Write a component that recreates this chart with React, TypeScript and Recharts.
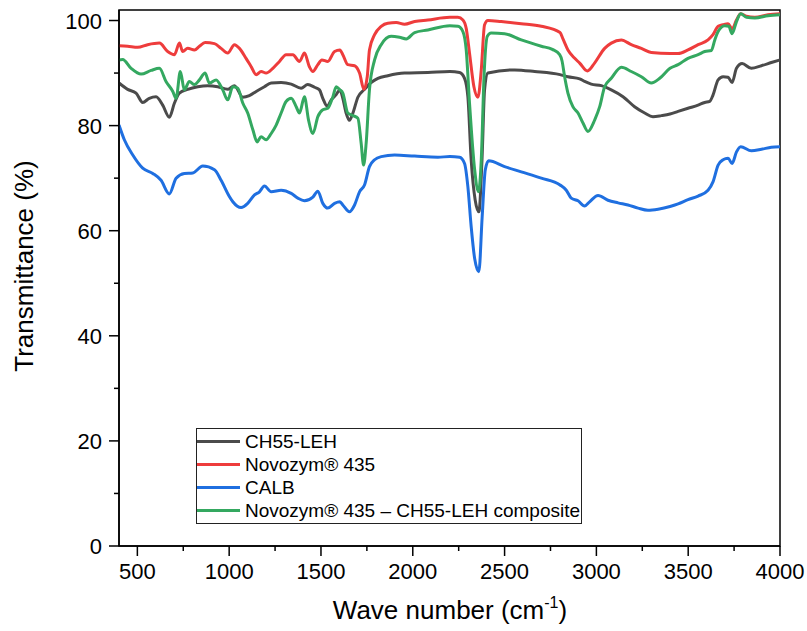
import { LineChart, Line, XAxis, YAxis, ReferenceArea, Legend } from "recharts";

// FTIR spectra, [wave number (cm-1), transmittance (%)]
const ch55: [number, number][] = [
    [400, 88.1], [447, 86.9], [493, 86.2], [529, 84.4], [565, 85.2], [602, 85.5], [638, 83.9], [674, 81.6],
    [702, 84.3], [729, 86.2], [774, 86.9], [829, 87.4], [883, 87.6], [938, 87.4], [992, 86.9], [1029, 87.6],
    [1074, 85.4], [1110, 85.7], [1147, 86.5], [1192, 87.4], [1229, 88.1], [1283, 88.2], [1338, 87.9], [1392, 87.1],
    [1428, 87.8], [1465, 87.3], [1492, 86.8], [1510, 85.2], [1534, 83.7], [1556, 84.9], [1583, 85.9], [1603, 86.8],
    [1619, 85.2], [1637, 82.4], [1655, 81.0], [1674, 82.4], [1701, 85.4], [1734, 86.8], [1773, 88.2], [1810, 89.0],
    [1864, 89.5], [1955, 90.0], [2082, 90.1], [2202, 90.3], [2255, 90.1], [2282, 89.0], [2300, 85.5], [2318, 73.5],
    [2340, 65.8], [2360, 63.6], [2377, 73.5], [2391, 86.8], [2409, 90.0], [2555, 90.6], [2664, 90.3], [2802, 89.7],
    [2845, 89.3], [2909, 88.9], [2936, 88.4], [2972, 87.9], [3027, 87.6], [3081, 86.8], [3145, 85.5], [3208, 83.6],
    [3263, 82.4], [3308, 81.7], [3354, 81.9], [3401, 82.2], [3445, 82.7], [3499, 83.3], [3554, 83.9], [3590, 84.4],
    [3617, 84.6], [3635, 85.8], [3663, 88.7], [3690, 89.3], [3717, 89.2], [3739, 88.2], [3763, 90.9], [3794, 91.8],
    [3844, 90.9], [3899, 91.4], [3953, 92.0], [4000, 92.5],
];

const novozym: [number, number][] = [
    [400, 95.2], [447, 95.1], [502, 94.9], [556, 95.4], [620, 95.7], [665, 94.1], [702, 93.5], [729, 95.7],
    [747, 94.1], [774, 94.7], [811, 94.4], [838, 95.1], [869, 95.8], [920, 95.6], [956, 94.7], [992, 93.8],
    [1029, 95.4], [1056, 94.7], [1092, 92.8], [1120, 91.2], [1147, 89.7], [1174, 90.3], [1201, 90.0], [1238, 90.9],
    [1274, 92.2], [1310, 93.5], [1347, 93.5], [1383, 92.2], [1410, 93.8], [1437, 91.2], [1456, 90.3], [1483, 91.6],
    [1505, 92.5], [1537, 92.2], [1574, 94.1], [1603, 94.4], [1619, 93.5], [1646, 91.6], [1683, 91.4], [1710, 90.0],
    [1734, 86.9], [1752, 89.3], [1764, 94.4], [1792, 97.3], [1828, 98.9], [1864, 99.5], [1910, 99.6], [1955, 99.3],
    [2010, 99.8], [2082, 100.1], [2202, 100.6], [2246, 100.6], [2273, 100.1], [2291, 98.5], [2309, 93.8], [2333, 87.4],
    [2355, 85.4], [2373, 90.6], [2391, 99.2], [2409, 100.0], [2482, 99.8], [2591, 99.4], [2700, 98.9], [2802, 97.7],
    [2818, 96.5], [2845, 94.4], [2882, 92.8], [2909, 91.9], [2951, 90.4], [2990, 91.9], [3045, 94.7], [3081, 95.7],
    [3136, 96.3], [3190, 95.4], [3245, 94.7], [3299, 93.9], [3401, 93.7], [3445, 93.7], [3499, 94.4], [3554, 95.4],
    [3608, 96.3], [3635, 97.3], [3663, 98.9], [3690, 99.2], [3717, 99.4], [3739, 98.4], [3763, 100.1], [3786, 101.3],
    [3817, 100.8], [3863, 100.6], [3935, 101.1], [4000, 101.3],
];

const calb: [number, number][] = [
    [400, 80.1], [429, 77.3], [475, 74.4], [529, 71.9], [584, 70.9], [629, 69.6], [674, 67.0], [711, 70.0],
    [756, 70.9], [802, 71.0], [856, 72.3], [920, 71.6], [956, 69.6], [1001, 66.5], [1020, 65.5], [1065, 64.4],
    [1101, 65.2], [1138, 66.8], [1165, 67.4], [1192, 68.5], [1229, 67.4], [1283, 67.7], [1338, 67.1], [1374, 66.2],
    [1410, 65.7], [1456, 66.4], [1483, 67.5], [1510, 65.2], [1537, 64.3], [1574, 65.2], [1603, 65.5], [1619, 64.9],
    [1655, 63.6], [1683, 64.9], [1710, 67.4], [1737, 68.7], [1764, 72.2], [1792, 73.5], [1828, 74.1], [1901, 74.4],
    [2010, 74.2], [2137, 74.0], [2202, 74.1], [2255, 74.0], [2282, 72.8], [2300, 68.4], [2318, 60.8], [2337, 54.7],
    [2360, 52.2], [2378, 62.7], [2395, 71.6], [2413, 73.3], [2500, 72.2], [2591, 71.2], [2700, 70.0], [2802, 68.7],
    [2836, 67.7], [2863, 66.2], [2900, 65.7], [2936, 64.7], [2963, 65.5], [3009, 66.7], [3063, 65.8], [3118, 65.3],
    [3172, 64.9], [3227, 64.3], [3281, 63.9], [3336, 64.1], [3401, 64.6], [3445, 65.1], [3499, 65.9], [3554, 66.6],
    [3608, 67.7], [3635, 69.3], [3663, 72.5], [3690, 73.5], [3717, 73.8], [3739, 72.8], [3763, 75.0], [3786, 76.0],
    [3844, 75.2], [3899, 75.5], [3953, 75.9], [4000, 76.0],
];

const composite: [number, number][] = [
    [400, 92.5], [420, 92.6], [466, 90.9], [520, 89.8], [575, 90.5], [620, 90.9], [656, 88.4], [693, 86.5],
    [711, 85.2], [734, 90.3], [756, 86.8], [783, 88.4], [811, 87.8], [838, 88.7], [869, 90.0], [892, 88.1],
    [929, 88.7], [965, 86.8], [992, 84.9], [1020, 87.4], [1047, 87.1], [1074, 84.3], [1101, 82.4], [1129, 79.2],
    [1152, 76.9], [1174, 77.9], [1201, 77.3], [1229, 78.5], [1256, 80.1], [1283, 82.4], [1310, 84.6], [1338, 85.2],
    [1365, 83.6], [1383, 82.4], [1410, 85.5], [1432, 81.1], [1456, 78.5], [1483, 81.7], [1510, 83.0], [1537, 83.3],
    [1565, 85.5], [1583, 87.4], [1603, 86.8], [1619, 86.2], [1646, 82.4], [1674, 81.9], [1701, 81.4], [1719, 76.6],
    [1732, 72.5], [1746, 76.6], [1764, 86.8], [1792, 92.5], [1828, 95.4], [1882, 97.0], [1928, 96.8], [1964, 96.5],
    [2010, 97.7], [2082, 98.2], [2202, 99.0], [2246, 98.9], [2273, 97.9], [2291, 94.4], [2309, 84.3], [2337, 71.6],
    [2358, 67.4], [2373, 73.5], [2388, 89.3], [2406, 97.0], [2427, 97.6], [2500, 97.5], [2591, 96.3], [2700, 95.1],
    [2760, 94.5], [2800, 93.5], [2813, 92.3], [2827, 89.3], [2845, 86.2], [2872, 83.6], [2900, 82.4], [2927, 80.5],
    [2954, 78.9], [2991, 81.1], [3018, 83.6], [3045, 87.4], [3081, 89.0], [3136, 91.1], [3190, 90.3], [3245, 89.3],
    [3299, 88.1], [3345, 89.0], [3401, 90.9], [3445, 91.6], [3499, 92.8], [3554, 93.5], [3590, 94.1], [3626, 94.3],
    [3645, 96.3], [3663, 97.9], [3699, 99.0], [3721, 98.9], [3739, 97.5], [3763, 99.8], [3786, 101.3], [3817, 100.6],
    [3863, 100.5], [3935, 100.9], [4000, 101.1],
];

const xTicks = [500, 750, 1000, 1250, 1500, 1750, 2000, 2250, 2500, 2750, 3000, 3250, 3500, 3750, 4000];
const yTicks = [0, 10, 20, 30, 40, 50, 60, 70, 80, 90, 100];

const series = [
    { name: "CH55-LEH", color: "#4b4b4b", points: ch55 },
    { name: "Novozym® 435", color: "#ee3c3c", points: novozym },
    { name: "CALB", color: "#1f6fe0", points: calb },
    { name: "Novozym® 435 – CH55-LEH composite", color: "#34a860", points: composite },
];

const FONT = "'Liberation Sans', Arial, sans-serif";

function XTick(props: any) {
    const { x, y, payload } = props;
    const major = payload.value % 500 === 0;
    return (
        <g>
            <line x1={x} x2={x} y1={y} y2={y + (major ? 10 : 5)} stroke="#000" strokeWidth={1.5} />
            {major && (
                <text x={x} y={y + 33} textAnchor="middle" fontSize={22} fontFamily={FONT} fill="#000">
                    {payload.value}
                </text>
            )}
        </g>
    );
}

function YTick(props: any) {
    const { x, y, payload } = props;
    const major = payload.value % 20 === 0;
    return (
        <g>
            <line x1={x - (major ? 10 : 5)} x2={x} y1={y} y2={y} stroke="#000" strokeWidth={1.5} />
            {major && (
                <text x={x - 17} y={y + 8} textAnchor="end" fontSize={22} fontFamily={FONT} fill="#000">
                    {payload.value}
                </text>
            )}
        </g>
    );
}

function XTitle() {
    return (
        <text x={450} y={619} textAnchor="middle" fontSize={26} fontFamily={FONT} fill="#000">
            Wave number (cm
            <tspan dy={-11} fontSize={16}>-1</tspan>
            <tspan dy={11}>)</tspan>
        </text>
    );
}

function YTitle() {
    return (
        <text
            x={33}
            y={266}
            transform="rotate(-90 33 266)"
            textAnchor="middle"
            fontSize={26}
            fontFamily={FONT}
            fill="#000"
        >
            Transmittance (%)
        </text>
    );
}

function LegendBox() {
    return (
        <div
            style={{
                border: "1px solid #222",
                background: "#fff",
                width: 384,
                padding: "1px 0",
                fontFamily: FONT,
                fontSize: 19,
                color: "#000",
            }}
        >
            {series.map(s => (
                <div key={s.name} style={{ display: "flex", alignItems: "center", height: 23 }}>
                    <div style={{ width: 43, height: 3.5, background: s.color, marginRight: 5 }} />
                    <span style={{ whiteSpace: "nowrap" }}>{s.name}</span>
                </div>
            ))}
        </div>
    );
}

export default function App() {
    return (
        <div style={{ position: "absolute", left: 0, top: 0, background: "#fff" }}>
            <LineChart width={807} height={631} margin={{ top: 10, right: 27, bottom: 0, left: 0 }}>
                <XAxis
                    type="number"
                    dataKey="w"
                    domain={[400, 4000]}
                    ticks={xTicks}
                    interval={0}
                    height={85}
                    tickSize={0}
                    tickMargin={0}
                    tickLine={false}
                    tick={<XTick />}
                    axisLine={{ stroke: "#000", strokeWidth: 1.5 }}
                    allowDataOverflow
                    label={<XTitle />}
                />
                <YAxis
                    type="number"
                    domain={[0, 102]}
                    ticks={yTicks}
                    interval={0}
                    width={119}
                    tickSize={0}
                    tickMargin={0}
                    tickLine={false}
                    tick={<YTick />}
                    axisLine={{ stroke: "#000", strokeWidth: 1.5 }}
                    allowDataOverflow
                    label={<YTitle />}
                />
                <ReferenceArea
                    x1={400}
                    x2={4000}
                    y1={0}
                    y2={102}
                    fill="none"
                    stroke="#000"
                    strokeWidth={1.5}
                    ifOverflow="visible"
                />
                {series.map(s => (
                    <Line
                        key={s.name}
                        name={s.name}
                        data={s.points.map(([w, t]) => ({ w, t }))}
                        dataKey="t"
                        type="monotone"
                        stroke={s.color}
                        strokeWidth={3}
                        dot={false}
                        activeDot={false}
                        isAnimationActive={false}
                    />
                ))}
                <Legend
                    layout="vertical"
                    align="center"
                    verticalAlign="middle"
                    wrapperStyle={{ left: 196, top: 428, width: "auto" }}
                    content={() => <LegendBox />}
                />
            </LineChart>
        </div>
    );
}
